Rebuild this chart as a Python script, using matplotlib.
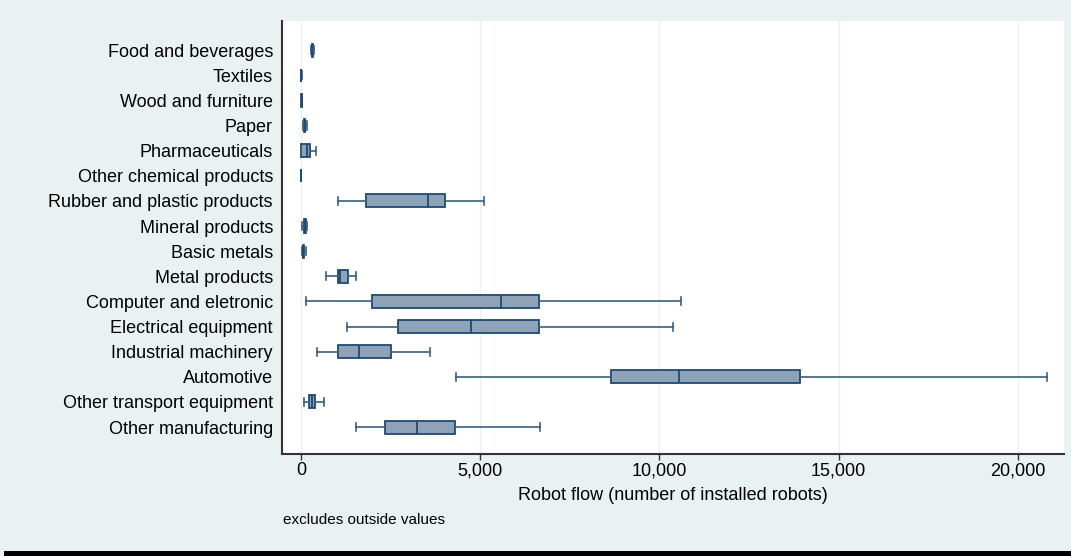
"""
Horizontal box plot of annual robot installations by manufacturing industry.
"""

import matplotlib.pyplot as plt
from matplotlib.patches import Rectangle
from matplotlib.ticker import FuncFormatter

industries = [
    "Food and beverages",
    "Textiles",
    "Wood and furniture",
    "Paper",
    "Pharmaceuticals",
    "Other chemical products",
    "Rubber and plastic products",
    "Mineral products",
    "Basic metals",
    "Metal products",
    "Computer and eletronic",
    "Electrical equipment",
    "Industrial machinery",
    "Automotive",
    "Other transport equipment",
    "Other manufacturing",
]

# box statistics (outside values excluded)
whisk_lo = [270, 0, 0, 47, 0, 0, 1014, 30, 10, 698, 140, 1284, 455, 4319, 75, 1535]
q1 = [300, 0, 5, 80, 0, 0, 1815, 70, 40, 1014, 1973, 2689, 1014, 8654, 204, 2337]
median = [310, 2, 15, 100, 176, 2, 3546, 100, 60, 1070, 5564, 4727, 1600, 10542, 315, 3238]
q3 = [320, 5, 25, 120, 232, 5, 4012, 130, 80, 1293, 6644, 6644, 2521, 13914, 391, 4291]
whisk_hi = [345, 10, 30, 176, 400, 8, 5100, 176, 140, 1517, 10609, 10366, 3582, 20821, 642, 6672]

xticks = [0, 5000, 10000, 15000, 20000]

BG = "#e9f1f3"
NAVY = "#1f4a70"
FILL = "#8ea3b7"

plt.rcParams["font.family"] = ["Liberation Sans", "DejaVu Sans"]

fig = plt.figure(figsize=(10.71, 5.56), dpi=100, facecolor=BG)
ax = fig.add_axes([0.2633, 0.1835, 0.7302, 0.7793])

stats = [
    dict(whislo=lo, q1=a, med=m, q3=b, whishi=hi, label=name)
    for name, lo, a, m, b, hi in zip(industries, whisk_lo, q1, median, q3, whisk_hi)
]
pos = list(range(len(industries)))
ax.bxp(
    stats,
    positions=pos,
    vert=False,
    widths=0.52,
    showfliers=False,
    patch_artist=True,
    boxprops=dict(facecolor=FILL, edgecolor=NAVY, linewidth=1.3),
    medianprops=dict(color=NAVY, linewidth=1.3),
    whiskerprops=dict(color="#3a5f82", linewidth=1.2),
    capprops=dict(color="#3a5f82", linewidth=1.2),
    capwidths=0.32,
)

ax.set_ylim(len(industries) - 1 + 1.07, -1.17)
ax.set_xlim(-536, 21296)
ax.set_yticks(pos)
ax.set_yticklabels(industries, fontsize=13)
ax.tick_params(axis="y", length=0, pad=6.5)
ax.set_xticks(xticks)
ax.xaxis.set_major_formatter(FuncFormatter(lambda v, _: f"{v:,.0f}"))
ax.tick_params(axis="x", labelsize=13, length=4, width=1, color="#333333", pad=2)
ax.xaxis.grid(True, color=BG, linewidth=1)
ax.set_axisbelow(True)
ax.set_xlabel("Robot flow (number of installed robots)", fontsize=13, labelpad=5.5)

for side in ("top", "right"):
    ax.spines[side].set_visible(False)
for side in ("left", "bottom"):
    ax.spines[side].set_color("#333333")
    ax.spines[side].set_linewidth(1.5)

fig.text(283 / 1071, 1 - 520 / 556, "excludes outside values", fontsize=11, va="center", ha="left")

# black rule along the bottom edge
fig.patches.append(Rectangle((4 / 1071, 0), 1, 5 / 556, transform=fig.transFigure,
                             facecolor="black", edgecolor="none"))

fig.savefig("out.png", dpi=100, facecolor=BG)
